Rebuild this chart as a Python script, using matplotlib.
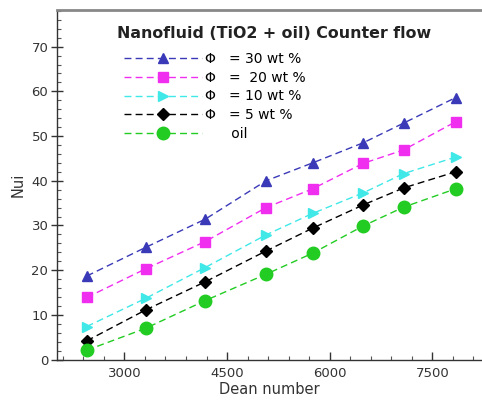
import matplotlib
matplotlib.use("Agg")
import matplotlib.pyplot as plt
from matplotlib.ticker import MultipleLocator, FixedLocator

plt.rcParams['font.family'] = ['DejaVu Sans']

# Dean numbers and Nusselt numbers for each concentration
dean = [2450, 3310, 4180, 5070, 5750, 6490, 7080, 7840]
nu_30 = [18.7, 25.1, 31.4, 40.0, 44.0, 48.5, 52.9, 58.6]
nu_20 = [13.9, 20.3, 26.4, 34.0, 38.2, 43.9, 46.9, 53.2]
nu_10 = [7.4, 13.7, 20.6, 27.9, 32.7, 37.3, 41.6, 45.3]
nu_5 = [4.2, 11.1, 17.4, 24.3, 29.4, 34.6, 38.4, 42.0]
nu_oil = [2.1, 7.0, 13.2, 19.1, 23.8, 29.9, 34.1, 38.2]

labels = ["Φ   = 30 wt %", "Φ   =  20 wt %", "Φ   = 10 wt %", "Φ   = 5 wt %", "      oil"]
title = "Nanofluid (TiO2 + oil) Counter flow"

series = [nu_30, nu_20, nu_10, nu_5, nu_oil]
styles = [
    dict(color="#3a3ab8", marker="^", ms=7),
    dict(color="#f02ef0", marker="s", ms=7.5),
    dict(color="#40e8e8", marker=">", ms=7.5),
    dict(color="#000000", marker="D", ms=6),
    dict(color="#22cc22", marker="o", ms=9),
]

fig = plt.figure(figsize=(4.82, 4.04), dpi=100)
ax = fig.add_axes([56.7 / 482, 44.4 / 404, 1 - 56.7 / 482, 349.6 / 404])

for vals, lab, st in zip(series, labels, styles):
    ax.plot(dean, vals, linestyle=(0, (5, 3)), linewidth=1.0, color=st["color"],
            marker=st["marker"], markersize=st["ms"], markerfacecolor=st["color"],
            markeredgecolor=st["color"], label=lab)

ax.set_xlim(2010, 8226)
ax.set_ylim(0, 78.2)
ax.xaxis.set_major_locator(FixedLocator([3000, 4500, 6000, 7500]))
ax.xaxis.set_minor_locator(MultipleLocator(300))
ax.yaxis.set_major_locator(MultipleLocator(10))
ax.yaxis.set_minor_locator(MultipleLocator(2))

ax.tick_params(axis='x', which='major', direction='in', length=6, width=1, colors='#333333',
               labelsize=9.5, pad=5)
ax.tick_params(axis='x', which='minor', direction='in', length=3, width=0.8, colors='#555555')
ax.tick_params(axis='y', which='major', direction='inout', length=8, width=1, colors='#333333',
               labelsize=9.5, pad=2)
ax.tick_params(axis='y', which='minor', direction='in', length=3, width=0.8, colors='#555555')

ax.spines['right'].set_visible(False)
ax.spines['top'].set_color('#888888')
ax.spines['top'].set_linewidth(2)
for s in ('left', 'bottom'):
    ax.spines[s].set_color('#333333')
    ax.spines[s].set_linewidth(1)

ax.set_xlabel("Dean number", fontsize=10.5, color='#333333', labelpad=2)
ax.set_ylabel("Nui", fontsize=10.5, color='#333333', labelpad=4)

fig.text(117 / 482, 1 - 33 / 404, title, fontsize=11.4, fontweight='bold',
         color='#222222', ha='left', va='center')

ax.legend(loc='upper left', bbox_to_anchor=(124 / 482, 1 - 52 / 404),
          bbox_transform=fig.transFigure, frameon=False, fontsize=10,
          numpoints=1, handlelength=5.6, handletextpad=0.2, labelspacing=0.34,
          borderpad=0, borderaxespad=0)

fig.savefig("out.png", dpi=100)
